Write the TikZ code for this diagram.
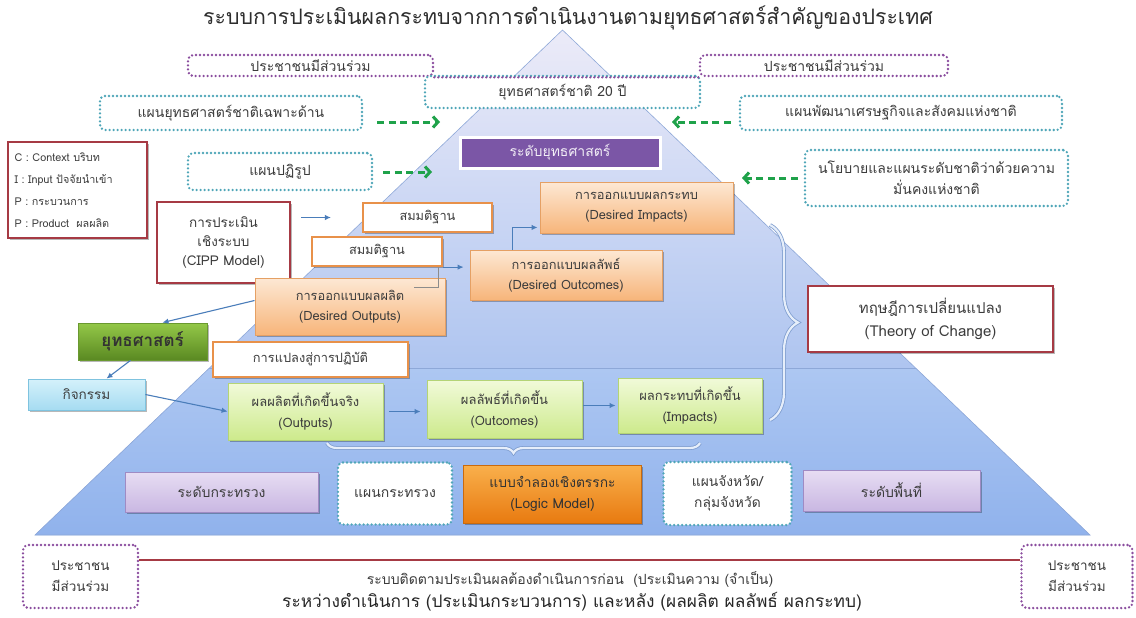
\documentclass[tikz,border=0pt]{standalone}
\usepackage{fontspec}
\setmainfont{Loma}[Script=Thai]
\usetikzlibrary{arrows.meta,shadows,decorations.pathreplacing,calc}
\definecolor{txt}{HTML}{3C3C3C}
\definecolor{tealc}{HTML}{4FA6B8}
\definecolor{purpc}{HTML}{8A4D9E}
\definecolor{grA}{HTML}{1FA24A}
\definecolor{arrB}{HTML}{4A7DBA}
\definecolor{redc}{HTML}{A63A44}
\definecolor{orW}{HTML}{E8914A}
\definecolor{peachT}{HTML}{FDE8D4}
\definecolor{peachB}{HTML}{F7B57A}
\definecolor{peachD}{HTML}{E5A064}
\definecolor{gyT}{HTML}{F1FAD9}
\definecolor{gyB}{HTML}{CDEA8C}
\definecolor{gyD}{HTML}{B4D476}
\definecolor{lavT}{HTML}{E7DDF3}
\definecolor{lavB}{HTML}{C9B7E2}
\definecolor{lavD}{HTML}{9F8BC4}
\definecolor{cyT}{HTML}{D4F1FB}
\definecolor{cyB}{HTML}{A6DCF1}
\definecolor{cyD}{HTML}{7FC3DF}
\definecolor{lgT}{HTML}{F9B04C}
\definecolor{lgB}{HTML}{E87A10}
\definecolor{lgD}{HTML}{C96A0E}
\definecolor{sgT}{HTML}{94C848}
\definecolor{sgB}{HTML}{5A8922}
\definecolor{sgD}{HTML}{6A9930}
\definecolor{stratP}{HTML}{7B56A6}
\definecolor{pyrT}{HTML}{ECEBF8}
\definecolor{bandT}{HTML}{ADC7F2}
\definecolor{bandB}{HTML}{90B2EC}
\definecolor{pyrE}{HTML}{8EA8D8}
\definecolor{brc}{HTML}{7E9DCF}
\definecolor{brf}{HTML}{E6EEFA}
\tikzset{
  shd/.style={drop shadow={shadow xshift=1.6pt,shadow yshift=-1.6pt,opacity=0.28,fill=black}},
  sz/.style 2 args={minimum width=#1pt, minimum height=#2pt},
  base/.style={inner sep=2pt, align=center, text=txt, font=\fontsize{13.5}{19}\selectfont},
  dotbox/.style={base, fill=white, line width=2.6pt, dash pattern=on 0pt off 4pt, line cap=round, rounded corners=5pt},
  tealbox/.style={dotbox, draw=tealc},
  purpbox/.style={dotbox, draw=purpc},
  peach/.style={base, draw=peachD, line width=0.9pt, top color=peachT, bottom color=peachB, shd},
  owhite/.style={base, draw=orW, line width=2.2pt, fill=white, shd},
  redbox/.style={base, draw=redc, line width=2pt, fill=white, shd},
  gybox/.style={base, draw=gyD, line width=0.8pt, top color=gyT, bottom color=gyB, shd},
  lavbox/.style={base, draw=lavD, line width=0.8pt, top color=lavT, bottom color=lavB, shd},
  cybox/.style={base, draw=cyD, line width=0.8pt, top color=cyT, bottom color=cyB, shd},
  logicbox/.style={base, draw=lgD, line width=0.8pt, top color=lgT, bottom color=lgB, shd, text=black!80},
  stratbox/.style={base, draw=sgD, line width=0.8pt, top color=sgT, bottom color=sgB, shd, text=black!80, font=\fontsize{17}{19}\selectfont\bfseries},
  levelbox/.style={base, draw=white, line width=3pt, fill=stratP, shd, text=white!90!stratP, font=\fontsize{14}{17}\selectfont},
  blueArr/.style={draw=arrB, line width=1.1pt, -{Latex[length=6pt,width=5.5pt]}},
  greenArr/.style={draw=grA, line width=3pt, dash pattern=on 7pt off 4.5pt, -{Straight Barb[length=5pt,width=11pt]}},
  bracesty/.style={draw=brc, line width=0.8pt, double=brf, double distance=2.2pt, decorate},
}
\begin{document}
\begin{tikzpicture}[x=1pt,y=-1pt]
\useasboundingbox (0,0) rectangle (1136,618);
\fill[white] (0,0) rectangle (1136,618);
% pyramid
\coordinate (apex) at (562.5,30);
\coordinate (bl) at (35,535);
\coordinate (br) at (1090,535);
\shade[top color=pyrT, bottom color=bandB] (apex) -- (br) -- (bl) -- cycle;
\coordinate (bandL) at ($(bl)!0.33!(apex)$);
\coordinate (bandR) at ($(br)!0.33!(apex)$);
\shade[top color=bandT, bottom color=bandB] (bandL) -- (bandR) -- (br) -- (bl) -- cycle;
\draw[pyrE, line width=0.6pt] (apex) -- (br) -- (bl) -- cycle;
\draw[pyrE, line width=0.8pt] (bandL) -- (bandR);

% title
\node[base, font=\fontsize{21.3}{24}\selectfont, text=black!82] (title) at (568,18)
  {ระบบการประเมินผลกระทบจากการดำเนินงานตามยุทธศาสตร์สำคัญของประเทศ};

% top participation + national strategy
\node[purpbox, sz={245}{21}, font=\fontsize{14}{17}\selectfont] (pL) at (310.5,65.5) {ประชาชนมีส่วนร่วม};
\node[purpbox, sz={248}{21}, font=\fontsize{14}{17}\selectfont] (pR) at (824,65.5) {ประชาชนมีส่วนร่วม};
\node[tealbox, sz={275}{32}, font=\fontsize{14}{17}\selectfont] (n20) at (562.5,92) {ยุทธศาสตร์ชาติ 20 ปี};
\draw[purpc, line width=2.6pt, dash pattern=on 0pt off 4pt, line cap=round] (pL.south east) -- (pR.south west);

% plans
\node[tealbox, sz={262}{34}, font=\fontsize{14}{17}\selectfont] (planL) at (231,113) {แผนยุทธศาสตร์ชาติเฉพาะด้าน};
\node[tealbox, sz={322}{34}, font=\fontsize{14}{17}\selectfont] (planR) at (901,113) {แผนพัฒนาเศรษฐกิจและสังคมแห่งชาติ};
\node[tealbox, sz={184}{37}, font=\fontsize{14}{17}\selectfont] (reform) at (280,171.5) {แผนปฏิรูป};
\node[tealbox, sz={263}{56}, font=\fontsize{14}{21}\selectfont] (policy) at (936.5,178) {นโยบายและแผนระดับชาติว่าด้วยความ\\มั่นคงแห่งชาติ};

\coordinate (ga1) at (440,122);
\coordinate (ga2) at (672,122);
\coordinate (ga3) at (432,172);
\coordinate (ga4) at (742,178);
\draw[greenArr, shorten <=14pt] (planL.east |- ga1) -- (ga1);
\draw[greenArr, shorten <=8pt] (planR.west |- ga2) -- (ga2);
\draw[greenArr, shorten <=10pt] (reform.east |- ga3) -- (ga3);
\draw[greenArr, shorten <=6pt] (policy.west |- ga4) -- (ga4);

% strategy level
\node[levelbox, sz={200}{31}] (level) at (560,152.5) {ระดับยุทธศาสตร์};

% legend and CIPP
\node[redbox, sz={139}{96}, align=left, text width=126pt, font=\fontsize{10.8}{22}\selectfont] (leg) at (77.5,190)
  {C : Context บริบท\\I : Input ปัจจัยนำเข้า\\P : กระบวนการ\\P : Product\ \ ผลผลิต};
\node[redbox, sz={133}{81}, font=\fontsize{13.5}{19}\selectfont] (cipp) at (223.5,242.5) {การประเมิน\\เชิงระบบ\\(CIPP Model)};

% design boxes
\node[peach, sz={190}{57}, font=\fontsize{12.8}{20}\selectfont] (dout) at (350,306.5) {การออกแบบผลผลิต\\(Desired Outputs)};
\node[owhite, sz={129}{29}, font=\fontsize{12.8}{16}\selectfont] (ass1) at (427.5,217.5) {สมมติฐาน};
\node[owhite, sz={130}{29}, font=\fontsize{12.8}{16}\selectfont] (ass2) at (377,251.5) {สมมติฐาน};
\node[peach, sz={192}{50}, font=\fontsize{12.8}{20}\selectfont] (doc) at (566,275) {การออกแบบผลลัพธ์\\(Desired Outcomes)};
\node[peach, sz={193}{51}, font=\fontsize{12.8}{20}\selectfont] (dimp) at (636.5,207.5) {การออกแบบผลกระทบ\\(Desired Impacts)};

\draw[blueArr, shorten <=10pt, shorten >=31pt] (cipp.east |- ass1.west) -- (ass1.west);
\draw[black!45, line width=0.8pt] ([xshift=-5pt]ass2.south east) -- ++(0,20) -- ++(-24,0);
\draw[blueArr, shorten >=6pt] (ass2.south east) -- (doc.west |- ass2.south east);
\draw[blueArr] ($(doc.north west)+(43,0)$) |- ($(dimp.south west)+(-2,-6)$);

% strategy / activity chain
\node[stratbox, sz={129}{37}] (strat) at (142.5,341.5) {ยุทธศาสตร์};
\node[cybox, sz={117}{31}] (act) at (86.5,394.5) {กิจกรรม};
\node[owhite, sz={195}{35}, font=\fontsize{12.8}{16}\selectfont] (transl) at (310.5,359.5) {การแปลงสู่การปฏิบัติ};
\draw[blueArr] ($(dout.west)+(0,-6)$) -- ($(strat.north)+(20,0)$);
\draw[blueArr] ($(strat.south)+(-12,0)$) -- ($(act.north)+(20,0)$);

\node[gybox, sz={155}{57}, font=\fontsize{13}{21}\selectfont] (outp) at (305.5,411.5) {ผลผลิตที่เกิดขึ้นจริง\\(Outputs)};
\node[gybox, sz={155}{58}, font=\fontsize{13}{21}\selectfont] (outc) at (504.5,409) {ผลลัพธ์ที่เกิดขึ้น\\(Outcomes)};
\node[gybox, sz={144}{55}, font=\fontsize{13}{21}\selectfont] (imp) at (690,405.5) {ผลกระทบที่เกิดขึ้น\\(Impacts)};
\draw[blueArr] (act.east) -- (outp.west);
\draw[blueArr, shorten <=6pt, shorten >=6pt] (outp.east) -- (outc.west |- outp.east);
\draw[blueArr, shorten <=1pt, shorten >=2pt] (outc.east |- imp.west) -- (imp.west);

% braces
\coordinate (brL) at (327,443);
\coordinate (brR) at (700,443);
\draw[bracesty, decoration={brace, amplitude=10pt}] (brR) -- (brL);
\coordinate (brT) at (770,225);
\coordinate (brB) at (770,420);
\draw[bracesty, decoration={brace, amplitude=28pt}] (brT) -- (brB);

\node[redbox, sz={245}{66}, font=\fontsize{15}{23}\selectfont] (toc) at (930.5,319) {ทฤษฎีการเปลี่ยนแปลง\\(Theory of Change)};

% bottom row
\node[lavbox, sz={193}{40}, font=\fontsize{14}{17}\selectfont] (minis) at (221.5,492) {ระดับกระทรวง};
\node[tealbox, sz={114}{62}, font=\fontsize{14}{17}\selectfont] (minplan) at (395,493.5) {แผนกระทรวง};
\node[logicbox, sz={178}{58}, font=\fontsize{13.8}{21}\selectfont] (logic) at (552.5,494) {แบบจำลองเชิงตรรกะ\\(Logic Model)};
\node[tealbox, sz={128}{63}, font=\fontsize{13.8}{21}\selectfont] (prov) at (727.5,493.5) {แผนจังหวัด/\\กลุ่มจังหวัด};
\node[lavbox, sz={177}{41}, font=\fontsize{14}{17}\selectfont] (area) at (891.5,490.5) {ระดับพื้นที่};

% bottom line
\node[purpbox, sz={115}{63}, font=\fontsize{13.5}{21}\selectfont] (botL) at (80.5,576.5) {ประชาชน\\มีส่วนร่วม};
\node[purpbox, sz={111}{63}, font=\fontsize{13.5}{21}\selectfont] (botR) at (1077,576.5) {ประชาชน\\มีส่วนร่วม};
\draw[redc, line width=1.6pt] ($(botL.north east)!0.25!(botL.south east)$) -- ($(botR.north west)!0.25!(botR.south west)$);
\node[base, font=\fontsize{14}{16}\selectfont] (t1) at (570,579) {ระบบติดตามประเมินผลต้องดำเนินการก่อน\ \ (ประเมินความ (จำเป็น)};
\node[base, font=\fontsize{17.3}{19}\selectfont, text=black!85] (t2) at (572,602) {ระหว่างดำเนินการ (ประเมินกระบวนการ) และหลัง (ผลผลิต ผลลัพธ์ ผลกระทบ)};
\end{tikzpicture}
\end{document}
